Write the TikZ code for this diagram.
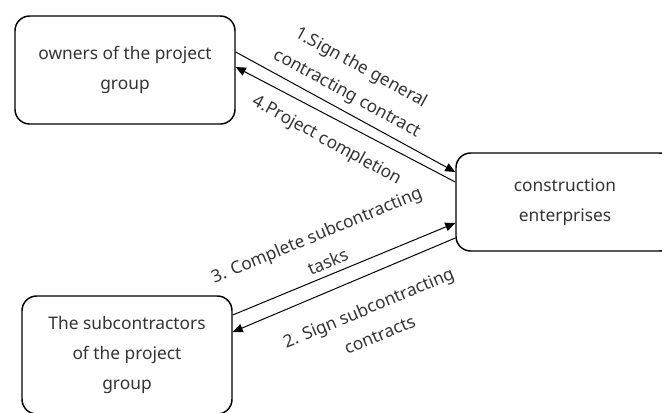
\documentclass[tikz,border=0pt]{standalone}
\usepackage{fontspec}
\setmainfont{Noto Sans}
\usetikzlibrary{calc,arrows.meta}
\definecolor{inkgray}{HTML}{333333}
\tikzset{
  party/.style={draw=black, line width=1.1pt, rounded corners=11pt,
    inner sep=0pt, align=center, text=inkgray,
    font=\fontsize{13}{22.5}\selectfont},
  flow/.style={draw=black, line width=0.75pt,
    -{Triangle[length=7.5pt,width=6.5pt]}},
  steplabel/.style={inner sep=0pt, align=center, text=inkgray,
    font=\fontsize{13}{22}\selectfont}
}
\begin{document}
\begin{tikzpicture}[x=0.75pt,y=-0.75pt]
  \useasboundingbox (0,0) rectangle (662,412);
  \begin{scope}
    \clip (0,0) rectangle (662,412);
    % the three parties
    \node[party, minimum width=165pt, minimum height=81pt] (owners) at (125,70)
      {owners of the project\\group};
    \node[party, minimum width=163.5pt, minimum height=73.5pt] (cons) at (565,202)
      {construction\\enterprises};
    \node[party, minimum width=157.5pt, minimum height=88.5pt] (sub) at (127,355)
      {The subcontractors\\of the project\\group};

    % contract and completion flows
    \draw[flow] ($(owners.east)+(0,-18)$) -- ($(cons.west)+(0,-30)$);
    \draw[flow] ($(cons.west)+(0,-20)$) -- ($(owners.east)+(0,-3)$);
    \draw[flow] ($(sub.east)+(0,-40)$) -- ($(cons.west)+(0,21)$);
    \draw[flow] ($(cons.west)+(0,36)$) -- ($(sub.east)+(0,-23)$);

    % flow labels
    \node[steplabel, rotate=-28.6] (l1) at (354,81)
      {1.Sign the general\\contracting contract};
    \node[steplabel, rotate=-28.6] (l4) at (327,141) {4.Project completion};
    \node[steplabel, rotate=22.5] (l3) at (322,248)
      {3. Complete subcontracting\\tasks};
    \node[steplabel, rotate=22.5] (l2) at (374,321)
      {2. Sign subcontracting\\contracts};
  \end{scope}
\end{tikzpicture}
\end{document}
